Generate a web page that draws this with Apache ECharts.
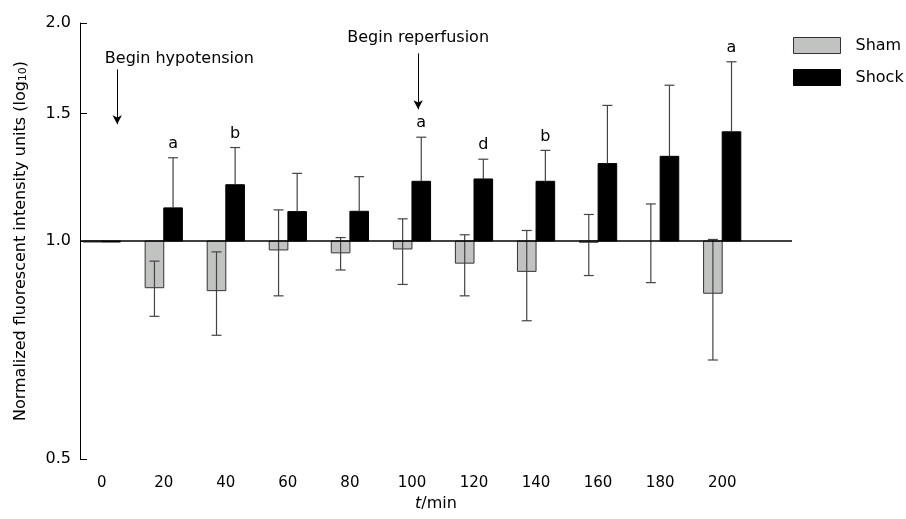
<!DOCTYPE html>
<html><head><meta charset="utf-8">
<script src="https://cdn.jsdelivr.net/npm/echarts@6/dist/echarts.min.js"></script>
<style>html,body{margin:0;padding:0;background:#fff}#c{width:906px;height:519px}</style>
</head><body><div id="c"></div>
<script>
// ---- data ----
const times = [0, 20, 40, 60, 80, 100, 120, 140, 160, 180, 200];
const shamMean  = [0.997, 0.862, 0.854, 0.972, 0.963, 0.975, 0.932, 0.908, 0.996, 1.000, 0.847];
const shamLow   = [0.997, 0.787, 0.741, 0.840, 0.912, 0.871, 0.840, 0.776, 0.896, 0.876, 0.685];
const shamHigh  = [0.997, 0.938, 0.966, 1.104, 1.011, 1.073, 1.020, 1.034, 1.088, 1.125, 1.005];
const shockMean = [0.997, 1.111, 1.196, 1.098, 1.099, 1.209, 1.218, 1.209, 1.279, 1.309, 1.415];
const shockHigh = [0.997, 1.303, 1.346, 1.240, 1.227, 1.391, 1.297, 1.334, 1.539, 1.641, 1.768];
const shockLetters = ['', 'a', 'b', '', '', 'a', 'd', 'b', '', '', 'a'];
const yTicks = [0.5, 1.0, 1.5, 2.0];
const xTicks = [0, 20, 40, 60, 80, 100, 120, 140, 160, 180, 200];
const seriesNames = ['Sham', 'Shock'];
const FONT = 'DejaVu Sans';

const shamRows = times.map((t, i) => [t, shamMean[i], shamLow[i], shamHigh[i]]);
const shockRows = times.map((t, i) => [t, shockMean[i], shockMean[i], shockHigh[i]]);

function makeRender(side, fill, stroke, errColor, letters) {
  return function (params, api) {
    const t = api.value(0), v = api.value(1), lo = api.value(2), hi = api.value(3);
    const base = api.coord([t, 1]);
    const top = api.coord([t, v]);
    const w = api.size([20, 0], [t, 1])[0] * 0.3;
    const cx = base[0] + side * w / 2;
    const yLo = api.coord([t, lo])[1];
    const yHi = api.coord([t, hi])[1];
    const children = [];
    const h = Math.abs(base[1] - top[1]);
    if (h > 0.3) {
      children.push({
        type: 'rect',
        shape: { x: cx - w / 2, y: Math.min(base[1], top[1]), width: w, height: Math.max(h, 1) },
        style: { fill: fill, stroke: stroke, lineWidth: 1 }
      });
    }
    const cap = 10;
    const es = { stroke: errColor, lineWidth: 1.2 };
    if (hi !== lo) {
      children.push({ type: 'line', shape: { x1: cx, y1: yLo, x2: cx, y2: yHi }, style: es });
      children.push({ type: 'line', shape: { x1: cx - cap / 2, y1: yHi, x2: cx + cap / 2, y2: yHi }, style: es });
      if (lo < v) {
        children.push({ type: 'line', shape: { x1: cx - cap / 2, y1: yLo, x2: cx + cap / 2, y2: yLo }, style: es });
      }
    }
    if (letters && letters[params.dataIndex]) {
      children.push({
        type: 'text',
        x: cx, y: yHi - 6,
        style: { text: letters[params.dataIndex], align: 'center', verticalAlign: 'bottom',
                 fontSize: 16, fontFamily: FONT, fill: '#000' }
      });
    }
    return { type: 'group', children: children };
  };
}

const chart = echarts.init(document.getElementById('c'), null, { renderer: 'canvas' });
chart.setOption({
  animation: false,
  textStyle: { fontFamily: FONT, color: '#000' },
  grid: { left: 80, right: 114, top: 23, bottom: 60, containLabel: false },
  legend: {
    orient: 'vertical', left: 793, top: 37, padding: 0,
    itemWidth: 47, itemHeight: 16, itemGap: 15, icon: 'rect',
    textStyle: { fontSize: 16, color: '#000', fontFamily: FONT, padding: [0, 0, 0, 10], lineHeight: 16 },
    data: [
      { name: seriesNames[0], itemStyle: { color: '#c1c3c1', borderColor: '#333', borderWidth: 1 } },
      { name: seriesNames[1], itemStyle: { color: '#000', borderColor: '#000', borderWidth: 1 } }
    ]
  },
  xAxis: {
    type: 'value', min: -7, max: 222.5,
    axisLine: { show: false, onZero: false }, axisTick: { show: false }, splitLine: { show: false },
    axisLabel: { customValues: xTicks, fontSize: 15, color: '#000', margin: 17, fontFamily: FONT },
    name: '{i|t}/min', nameLocation: 'middle', nameGap: 33,
    nameTextStyle: { fontSize: 16, color: '#000', fontFamily: FONT,
      rich: { i: { fontStyle: 'italic', fontSize: 16, fontFamily: FONT } } }
  },
  yAxis: {
    type: 'log', logBase: 10, min: 0.5, max: 2,
    axisLine: { show: true, onZero: false, lineStyle: { color: '#000', width: 1 } },
    axisTick: { show: true, inside: true, length: 7, customValues: yTicks, lineStyle: { color: '#000' } },
    axisLabel: { customValues: yTicks, fontSize: 16, color: '#000', margin: 9, fontFamily: FONT,
      formatter: v => Number(v).toFixed(1) },
    splitLine: { show: false },
    name: 'Normalized fluorescent intensity units (log{sub|10})',
    nameLocation: 'middle', nameGap: 51,
    nameTextStyle: { fontSize: 16, color: '#000', fontFamily: FONT,
      rich: { sub: { fontSize: 11, verticalAlign: 'bottom', fontFamily: FONT } } }
  },
  series: [
    {
      type: 'line', name: 'annotations', data: [], silent: true,
      markLine: {
        silent: true, symbol: 'none', label: { show: false }, animation: false,
        lineStyle: { type: 'solid', color: '#000', width: 1 },
        data: [
          { yAxis: 1, lineStyle: { type: 'solid', color: '#000', width: 1.5 } },
          [{ coord: [5, 1.726] }, { coord: [5, 1.45], symbol: 'arrow', symbolSize: [7, 9] }],
          [{ coord: [102, 1.816] }, { coord: [102, 1.52], symbol: 'arrow', symbolSize: [7, 9] }]
        ]
      },
      markPoint: {
        silent: true, symbol: 'circle', symbolSize: 1,
        itemStyle: { color: 'rgba(0,0,0,0)' },
        label: { show: true, position: 'inside', formatter: '{b}', color: '#000', fontSize: 16, fontFamily: FONT },
        data: [
          { name: 'Begin hypotension', coord: [1, 1.786], label: { align: 'left' } },
          { name: 'Begin reperfusion', coord: [102, 1.907] }
        ]
      }
    },
    {
      type: 'custom', name: seriesNames[0], data: shamRows,
      encode: { x: 0, y: [1, 2, 3] },
      itemStyle: { color: '#c1c3c1' },
      renderItem: makeRender(-1, '#c1c3c1', '#333', '#444', null)
    },
    {
      type: 'custom', name: seriesNames[1], data: shockRows,
      encode: { x: 0, y: [1, 2, 3] },
      itemStyle: { color: '#000' },
      renderItem: makeRender(1, '#000', '#000', '#444', shockLetters)
    }
  ]
});
</script>
</body></html>
